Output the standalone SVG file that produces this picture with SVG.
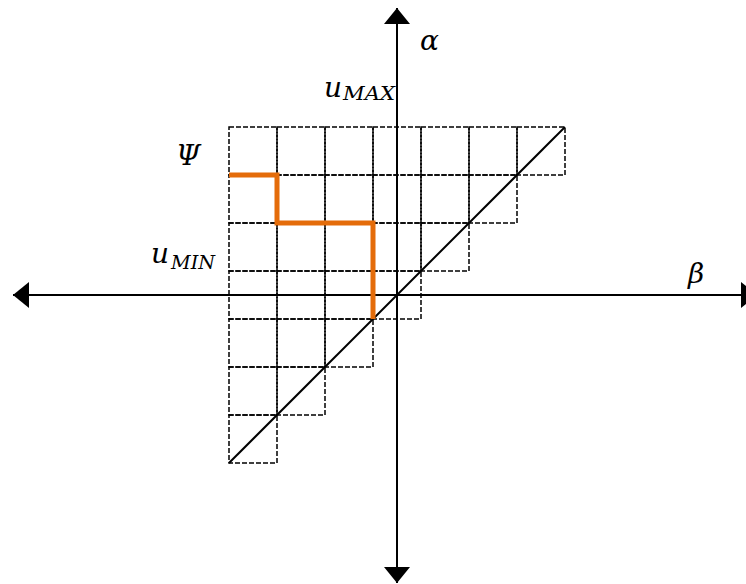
<svg xmlns="http://www.w3.org/2000/svg" width="746" height="584" viewBox="0 0 746 584">
<style>
.cell{fill:none;stroke:#000;stroke-width:1.5;stroke-dasharray:5 2}
.axis{stroke:#000;stroke-width:2;fill:none}
.lbl{font-family:"DejaVu Serif",serif;font-style:italic;font-size:28px;fill:#000}
.sub{font-family:"DejaVu Serif",serif;font-style:italic;font-size:19px;fill:#000}
</style>
<defs>
<marker id="ah" markerUnits="userSpaceOnUse" markerWidth="16" markerHeight="26" refX="16" refY="13" orient="auto-start-reverse" viewBox="0 0 16 26">
<path d="M0,0 L16,13 L0,26 z" fill="#000"/>
</marker>
</defs>
<rect width="746" height="584" fill="#fff"/>
<g id="grid">
<rect class="cell" x="229" y="127" width="48" height="48"/><rect class="cell" x="277" y="127" width="48" height="48"/><rect class="cell" x="325" y="127" width="48" height="48"/><rect class="cell" x="373" y="127" width="48" height="48"/><rect class="cell" x="421" y="127" width="48" height="48"/><rect class="cell" x="469" y="127" width="48" height="48"/><rect class="cell" x="517" y="127" width="48" height="48"/>
<rect class="cell" x="229" y="175" width="48" height="48"/><rect class="cell" x="277" y="175" width="48" height="48"/><rect class="cell" x="325" y="175" width="48" height="48"/><rect class="cell" x="373" y="175" width="48" height="48"/><rect class="cell" x="421" y="175" width="48" height="48"/><rect class="cell" x="469" y="175" width="48" height="48"/>
<rect class="cell" x="229" y="223" width="48" height="48"/><rect class="cell" x="277" y="223" width="48" height="48"/><rect class="cell" x="325" y="223" width="48" height="48"/><rect class="cell" x="373" y="223" width="48" height="48"/><rect class="cell" x="421" y="223" width="48" height="48"/>
<rect class="cell" x="229" y="271" width="48" height="48"/><rect class="cell" x="277" y="271" width="48" height="48"/><rect class="cell" x="325" y="271" width="48" height="48"/><rect class="cell" x="373" y="271" width="48" height="48"/>
<rect class="cell" x="229" y="319" width="48" height="48"/><rect class="cell" x="277" y="319" width="48" height="48"/><rect class="cell" x="325" y="319" width="48" height="48"/>
<rect class="cell" x="229" y="367" width="48" height="48"/><rect class="cell" x="277" y="367" width="48" height="48"/>
<rect class="cell" x="229" y="415" width="48" height="48"/>
</g>
<g id="connectors">
<line class="axis" x1="13" y1="295" x2="757" y2="295" marker-start="url(#ah)" marker-end="url(#ah)"/>
<line class="axis" x1="397" y1="583" x2="397" y2="8" marker-start="url(#ah)" marker-end="url(#ah)"/>
<line x1="229" y1="463" x2="565" y2="127" stroke="#000" stroke-width="2"/>
<polyline points="229,175 277,175 277,223 373,223 373,319" fill="none" stroke="#E46C0A" stroke-width="5"/>
</g>
<g id="labels">
<text class="lbl" x="420" y="50">α</text>
<text class="lbl" x="324" y="97">u</text><text class="sub" x="343" y="100" textLength="52" lengthAdjust="spacingAndGlyphs">MAX</text>
<text class="lbl" x="176" y="165">Ψ</text>
<text class="lbl" x="151" y="263">u</text><text class="sub" x="171" y="269" textLength="44" lengthAdjust="spacingAndGlyphs">MIN</text>
<text class="lbl" x="688" y="283">β</text>
</g>
</svg>
